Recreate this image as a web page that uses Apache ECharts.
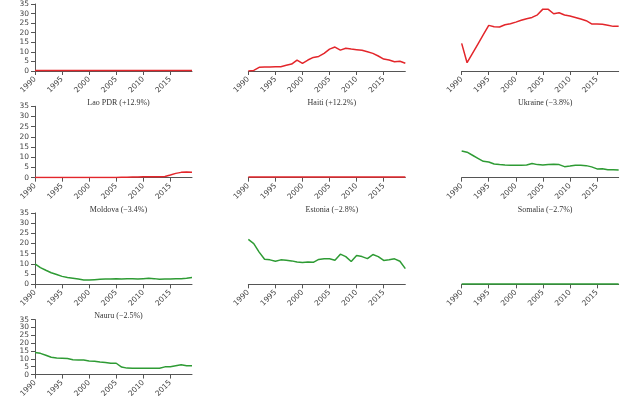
<!DOCTYPE html>
<html>
<head>
<meta charset="utf-8">
<script src="https://cdn.jsdelivr.net/npm/echarts@6/dist/echarts.min.js"></script>
<style>html,body{margin:0;padding:0;background:#fff}#c{width:640px;height:400px}</style>
</head>
<body>
<div id="c"></div>
<script>
var years = [];
for (var yr = 1990; yr <= 2019; yr++) years.push(yr);
var xTicks = [1990, 1995, 2000, 2005, 2010, 2015];
var yTicks = [0, 5, 10, 15, 20, 25, 30, 35];

var titles = ['', '', '', 'Lao PDR (+12.9%)', 'Haiti (+12.2%)', 'Ukraine (\u22123.8%)', 'Moldova (\u22123.4%)', 'Estonia (\u22122.8%)', 'Somalia (\u22122.7%)', 'Nauru (\u22122.5%)'];
var colors = ['red', 'red', 'red', 'red', 'red', 'green', 'green', 'green', 'green', 'green'];

var s0 = [0.2,0.2,0.2,0.2,0.2,0.2,0.2,0.2,0.2,0.2,0.2,0.2,0.2,0.2,0.2,0.2,0.2,0.2,0.2,0.2,0.2,0.2,0.2,0.2,0.2,0.2,0.2,0.2,0.2,0.2];
var s1 = [0,0.3,1.8,2.0,2.0,2.1,2.1,2.8,3.4,5.4,3.8,5.4,6.7,7.2,8.7,10.8,11.8,10.3,11.2,10.8,10.5,10.2,9.5,8.7,7.4,5.9,5.4,4.6,4.8,3.8];
var s2 = [13.6,4.1,8.7,13.3,17.9,22.5,21.8,21.7,22.8,23.3,24.1,25.0,25.8,26.4,27.7,30.5,30.4,28.2,28.7,27.6,27.1,26.4,25.6,24.8,23.2,23.2,23.0,22.5,22.0,22.0];
var laoPDR = [0.1,0.1,0.1,0.1,0.1,0.1,0.1,0.1,0.1,0.1,0.1,0.1,0.1,0.1,0.1,0.1,0.2,0.2,0.3,0.3,0.4,0.4,0.5,0.5,0.6,1.3,2.1,2.6,2.8,2.7];
var haiti = [0.3,0.3,0.3,0.3,0.3,0.3,0.3,0.3,0.3,0.3,0.3,0.3,0.3,0.3,0.3,0.3,0.3,0.3,0.3,0.3,0.3,0.3,0.3,0.3,0.3,0.3,0.3,0.3,0.3,0.3];
var ukraine = [13.1,12.5,11.0,9.5,8.0,7.7,6.7,6.4,6.2,6.1,6.1,6.1,6.2,6.9,6.4,6.2,6.4,6.6,6.4,5.4,5.7,6.1,6.1,5.9,5.3,4.3,4.4,3.9,3.9,3.8];
var moldova = [10.0,8.2,6.9,5.7,4.8,3.9,3.4,3.0,2.6,2.1,2.1,2.3,2.5,2.6,2.6,2.8,2.6,2.8,2.8,2.6,2.8,3.0,2.8,2.5,2.6,2.6,2.8,2.8,3.0,3.3];
var estonia = [22.0,20.0,15.8,12.3,12.0,11.3,12.0,11.8,11.5,11.0,10.7,11.0,10.8,12.2,12.5,12.5,11.8,14.8,13.6,11.2,14.1,13.6,12.6,14.6,13.6,11.7,12.0,12.5,11.3,7.7];
var somalia = [0.2,0.2,0.2,0.2,0.2,0.2,0.2,0.2,0.2,0.2,0.2,0.2,0.2,0.2,0.2,0.2,0.2,0.2,0.2,0.2,0.2,0.2,0.2,0.2,0.2,0.2,0.2,0.2,0.2,0.2];
var nauru = [14.0,13.5,12.3,11.0,10.6,10.4,10.2,9.5,9.3,9.2,8.7,8.5,8.0,7.7,7.2,7.2,4.8,4.1,4.0,4.0,4.0,4.0,4.0,4.0,4.9,5.0,5.6,6.2,5.6,5.6];
var seriesData = [s0, s1, s2, laoPDR, haiti, ukraine, moldova, estonia, somalia, nauru];

var lineColor = {red: '#e3262b', green: '#2e9b34'};
var colW = 640 / 3, rowH = 106.67;
var grids = [], xAxes = [], yAxes = [], series = [], titleArr = [];
for (var i = 0; i < seriesData.length; i++) {
  var r = Math.floor(i / 3), c = i % 3;
  var gLeft = 35 + c * colW;
  var gBottom = 71 + r * rowH;
  var gTop = gBottom - 71.4;
  grids.push({left: gLeft, top: gTop, width: 157, height: 71.4});
  xAxes.push({
    type: 'value', gridIndex: i, min: 1990, max: 2019, interval: 5,
    axisLine: {show: true, lineStyle: {color: '#555', width: 1}},
    axisTick: {show: true, length: 4, lineStyle: {color: '#555'}},
    splitLine: {show: false},
    axisLabel: {
      rotate: 45, margin: 7, fontSize: 7.5, color: '#444', fontFamily: 'DejaVu Sans',
      showMaxLabel: false,
      formatter: function (v) { return xTicks.indexOf(v) >= 0 ? String(v) : ''; }
    }
  });
  yAxes.push({
    type: 'value', gridIndex: i, min: 0, max: 35, interval: 5,
    show: c === 0,
    axisLine: {show: true, lineStyle: {color: '#555', width: 1}},
    axisTick: {show: true, length: 4, lineStyle: {color: '#555'}},
    splitLine: {show: false},
    axisLabel: {margin: 6, fontSize: 7.5, color: '#444', fontFamily: 'DejaVu Sans',
      formatter: function (v) { return yTicks.indexOf(v) >= 0 ? String(v) : ''; }}
  });
  series.push({
    type: 'line', xAxisIndex: i, yAxisIndex: i, showSymbol: false, symbol: 'none',
    data: years.map(function (yy, k) { return [yy, seriesData[i][k]]; }),
    lineStyle: {color: lineColor[colors[i]], width: 1.5},
    itemStyle: {color: lineColor[colors[i]]},
    animation: false, z: 5
  });
  if (titles[i]) {
    titleArr.push({
      text: titles[i], left: gLeft + 78.5, top: gTop - 12.5, textAlign: 'center',
      textStyle: {fontSize: 8, fontWeight: 'normal', color: '#333', fontFamily: 'Liberation Serif'}
    });
  }
}
var chart = echarts.init(document.getElementById('c'), null, {renderer: 'canvas'});
chart.setOption({
  animation: false,
  title: titleArr,
  grid: grids, xAxis: xAxes, yAxis: yAxes, series: series
});
</script>
</body>
</html>
